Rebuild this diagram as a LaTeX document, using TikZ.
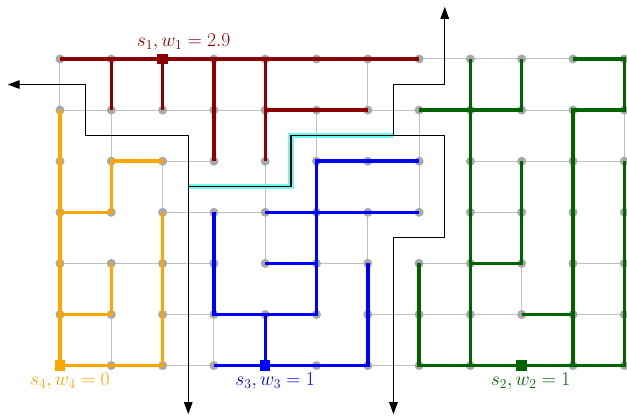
\RequirePackage{fix-cm}
\documentclass[tikz,border=0pt]{standalone}
\usetikzlibrary{arrows.meta}
\definecolor{dotgray}{RGB}{168,168,168}
\definecolor{edgegray}{RGB}{192,192,192}
\definecolor{treered}{RGB}{139,0,0}
\definecolor{treegreen}{RGB}{0,100,0}
\definecolor{treeblue}{RGB}{0,0,255}
\definecolor{treeorange}{RGB}{255,165,0}
\definecolor{hilite}{RGB}{110,250,240}
\begin{document}
\begin{tikzpicture}[x=51.3pt,y=-51.1pt,
  dot/.style={circle,fill=dotgray,draw=none,inner sep=0pt,minimum size=9pt},
  gridedge/.style={draw=edgegray,line width=1pt},
  tree/.style={line width=3.4pt,line join=miter},
  src/.style={rectangle,inner sep=0pt,minimum size=10.5pt,draw=none},
  dual/.style={draw=black,line width=1.3pt,line join=miter},
  dualarrow/.style={dual,-{Triangle[length=12pt,width=8.5pt]}},
  hl/.style={draw=hilite,line width=5.5pt,line join=miter},
  lab/.style={inner sep=0pt,font=\fontsize{19.5}{22}\selectfont}]
\useasboundingbox (-60pt,59pt) rectangle (567pt,-358pt);

% grid points
\foreach \c in {0,...,11} {
  \foreach \r in {0,...,6} {
    \coordinate (g-\c-\r) at (\c,\r);
  }
}

% gray grid edges
\foreach \c/\r in {7/0,8/0,9/0, 0/1,1/1,2/1,3/1,6/1,9/1, 2/2,8/2,9/2,10/2,
                   2/3,3/3,8/3, 0/4,1/4,2/4,5/4,7/4,10/4, 2/5,6/5,7/5,8/5,10/5,
                   2/6,6/6} {
  \pgfmathtruncatemacro\cn{\c+1}
  \draw[gridedge] (g-\c-\r) -- (g-\cn-\r);
}
\foreach \c/\r in {0/0,1/1,1/5,2/2,3/5,4/2,4/3,5/1,6/0,6/3,7/1,7/2,9/4,11/1} {
  \pgfmathtruncatemacro\rn{\r+1}
  \draw[gridedge] (g-\c-\r) -- (g-\c-\rn);
}

% dots
\foreach \c in {0,...,11} {
  \foreach \r in {0,...,6} {
    \node[dot] (n-\c-\r) at (g-\c-\r) {};
  }
}

% dual vertices
\coordinate (d-a) at (0.5,0.5);
\coordinate (d-b) at (0.5,1.5);
\coordinate (d-c) at (2.5,1.5);
\coordinate (d-c2) at (2.5,2.5);
\coordinate (d-e) at (4.5,2.5);
\coordinate (d-f) at (4.5,1.5);
\coordinate (d-g) at (6.5,1.5);
\coordinate (d-h) at (6.5,0.5);
\coordinate (d-i) at (7.5,0.5);
\coordinate (d-j) at (7.5,1.5);
\coordinate (d-k) at (7.5,3.5);
\coordinate (d-l) at (6.5,3.5);
\coordinate (t-left) at (-1.02,0.5);
\coordinate (t-top) at (7.5,-1.02);
\coordinate (t-bot1) at (2.5,6.95);
\coordinate (t-bot2) at (6.5,6.95);

% highlight
\draw[hl] (d-c2) -- (d-e) -- (d-f) -- (d-g);

% red tree
\draw[tree,treered] (g-0-0) -- (g-7-0);
\draw[tree,treered] (g-1-0) -- (g-1-1);
\draw[tree,treered] (g-2-0) -- (g-2-1);
\draw[tree,treered] (g-3-0) -- (g-3-2);
\draw[tree,treered] (g-4-0) -- (g-4-2);
\draw[tree,treered] (g-4-1) -- (g-6-1);

% green tree
\draw[tree,treegreen] (g-8-0) -- (g-8-6);
\draw[tree,treegreen] (g-9-0) -- (g-9-1) -- (g-7-1);
\draw[tree,treegreen] (g-10-0) -- (g-11-0) -- (g-11-1) -- (g-10-1) -- (g-10-6);
\draw[tree,treegreen] (g-9-2) -- (g-9-4) -- (g-8-4);
\draw[tree,treegreen] (g-9-5) -- (g-10-5);
\draw[tree,treegreen] (g-7-4) -- (g-7-6) -- (g-11-6) -- (g-11-2);

% blue tree
\draw[tree,treeblue] (g-3-3) -- (g-3-5) -- (g-5-5) -- (g-5-2) -- (g-7-2);
\draw[tree,treeblue] (g-4-3) -- (g-7-3);
\draw[tree,treeblue] (g-4-4) -- (g-5-4);
\draw[tree,treeblue] (g-4-5) -- (g-4-6);
\draw[tree,treeblue] (g-3-6) -- (g-6-6) -- (g-6-4);

% orange tree
\draw[tree,treeorange] (g-0-1) -- (g-0-6) -- (g-2-6) -- (g-2-3);
\draw[tree,treeorange] (g-0-3) -- (g-1-3) -- (g-1-2) -- (g-2-2);
\draw[tree,treeorange] (g-0-5) -- (g-1-5) -- (g-1-4);

% dual tree
\draw[dualarrow] (d-a) -- (t-left);
\draw[dualarrow] (d-a) -- (d-b) -- (d-c) -- (t-bot1);
\draw[dual] (d-c2) -- (d-e) -- (d-f) -- (d-g);
\draw[dualarrow] (d-g) -- (d-h) -- (d-i) -- (t-top);
\draw[dualarrow] (d-g) -- (d-j) -- (d-k) -- (d-l) -- (t-bot2);

% sources
\node[src,fill=treered] (s1) at (g-2-0) {};
\node[src,fill=treegreen] (s2) at (g-9-6) {};
\node[src,fill=treeblue] (s3) at (g-4-6) {};
\node[src,fill=treeorange] (s4) at (g-0-6) {};

% labels
\node[lab,text=treered,anchor=base west] (l1) at ([xshift=-26pt,yshift=12.5pt]s1.center) {$s_1, w_1 = 2.9$};
\node[lab,text=treegreen,anchor=base west] (l2) at ([xshift=-31pt,yshift=-20pt]s2.center) {$s_2, w_2 = 1$};
\node[lab,text=treeblue,anchor=base west] (l3) at ([xshift=-30pt,yshift=-19.5pt]s3.center) {$s_3, w_3 = 1$};
\node[lab,text=treeorange,anchor=base west] (l4) at ([xshift=-30pt,yshift=-19.5pt]s4.center) {$s_4, w_4 = 0$};
\end{tikzpicture}
\end{document}
